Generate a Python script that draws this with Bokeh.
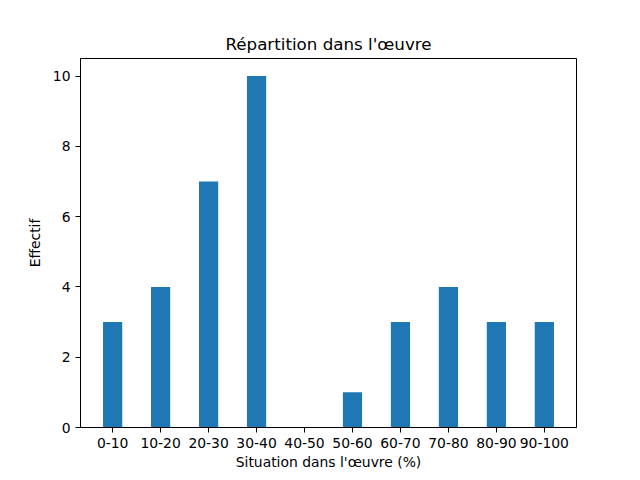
from bokeh.plotting import figure
from bokeh.models import Range1d, FixedTicker, ColumnDataSource
from bokeh.embed import file_html
from bokeh.resources import INLINE

# data
categories = ["0-10", "10-20", "20-30", "30-40", "40-50",
              "50-60", "60-70", "70-80", "80-90", "90-100"]
counts = [3, 4, 7, 10, 0, 1, 3, 4, 3, 3]
y_ticks = [0, 2, 4, 6, 8, 10]

positions = list(range(len(categories)))
source = ColumnDataSource(data=dict(x=positions, top=counts))

p = figure(width=640, height=480,
           output_backend="svg",
           toolbar_location=None,
           x_range=Range1d(-0.67, 9.67),
           y_range=Range1d(0, 10.5),
           min_border_left=80, min_border_right=64,
           min_border_top=58, min_border_bottom=53)

p.vbar(x="x", top="top", bottom=0, width=0.4, source=source,
       fill_color="#1f77b4", line_color=None)

# title
p.title.text = "Répartition dans l'œuvre"
p.title.align = "center"
p.title.text_font = "DejaVu Sans"
p.title.text_font_size = "16.7px"
p.title.text_font_style = "normal"
p.title.text_color = "black"
p.title.standoff = 9

# axes
p.xaxis.ticker = FixedTicker(ticks=positions)
p.xaxis.major_label_overrides = {i: c for i, c in enumerate(categories)}
p.yaxis.ticker = FixedTicker(ticks=y_ticks)
p.xaxis.axis_label = "Situation dans l'œuvre (%)"
p.yaxis.axis_label = "Effectif"

for ax in (p.xaxis, p.yaxis):
    ax.axis_label_text_font = "DejaVu Sans"
    ax.axis_label_text_font_size = "13.9px"
    ax.axis_label_text_font_style = "normal"
    ax.axis_label_text_color = "black"
    ax.major_label_text_font = "DejaVu Sans"
    ax.major_label_text_font_size = "13.9px"
    ax.major_label_text_color = "black"
    ax.major_tick_out = 5
    ax.major_tick_in = 0
    ax.minor_tick_out = 0
    ax.minor_tick_in = 0
    ax.axis_line_color = "black"
    ax.major_tick_line_color = "black"

p.xaxis.axis_label_standoff = 3
p.yaxis.axis_label_standoff = 7
p.yaxis.major_label_orientation = "horizontal"

p.grid.visible = False
p.outline_line_color = "black"
p.outline_line_alpha = 1
p.background_fill_color = "white"
p.border_fill_color = "white"

open("out.html", "w").write(file_html(p, INLINE))
